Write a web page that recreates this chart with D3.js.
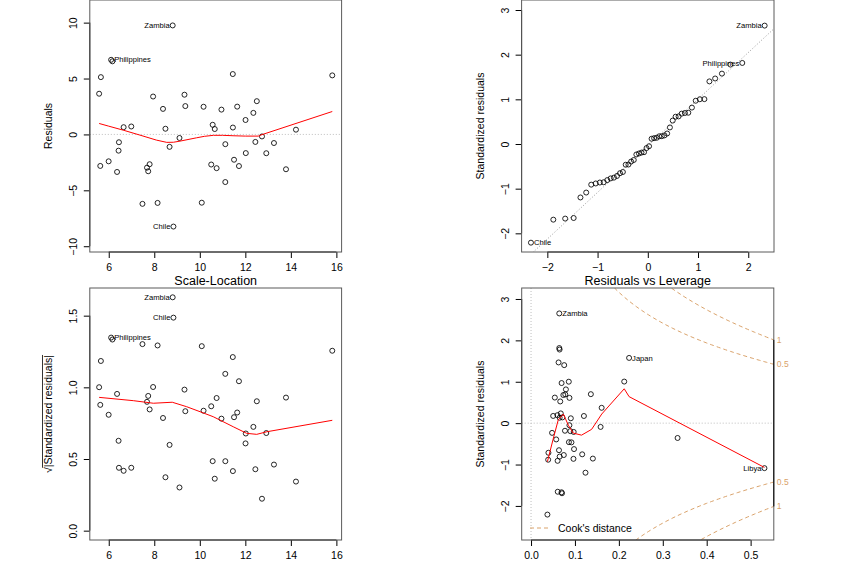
<!DOCTYPE html>
<html><head><meta charset="utf-8">
<script src="https://cdn.jsdelivr.net/npm/d3@7"></script>
<style>
body{margin:0;background:#fff;}
svg{display:block;font-family:"Liberation Sans",Arial,Helvetica,sans-serif;}
</style></head>
<body><svg id="c" width="864" height="576"></svg>
<script>
// ---- data: lm(sr ~ pop15 + pop75 + dpi + ddpi, LifeCycleSavings) diagnostics ----
const countries = ["Australia","Austria","Belgium","Bolivia","Brazil","Canada","Chile","China","Colombia","Costa Rica",
 "Denmark","Ecuador","Finland","France","Germany","Greece","Guatamala","Honduras","Iceland","India",
 "Ireland","Italy","Japan","Korea","Luxembourg","Malta","Norway","Netherlands","New Zealand","Nicaragua",
 "Panama","Paraguay","Peru","Philippines","Portugal","South Africa","South Rhodesia","Spain","Sweden","Switzerland",
 "Turkey","Tunisia","United Kingdom","United States","Venezuela","Zambia","Jamaica","Uruguay","Libya","Malaysia"];
const fitted = [10.566,11.454,10.951,6.448,9.327,9.107,8.842,9.364,6.432,5.655,
 11.450,5.996,12.921,10.165,12.731,13.786,6.365,6.990,7.481,8.491,
 7.949,12.353,15.819,10.087,12.021,12.505,11.122,14.224,8.384,6.654,
 7.734,8.146,6.161,6.105,13.258,10.657,12.009,12.441,11.120,11.643,
 7.796,5.628,10.502,8.672,5.578,8.809,10.739,11.504,11.720,7.681];
const residuals = [0.8636,0.6164,2.2190,-0.6983,3.5528,-0.3169,-8.2422,2.5360,-1.4517,5.1251,
 5.4002,-2.4056,-1.6812,2.4751,-0.1807,-3.1162,-3.3553,0.7101,-6.2106,0.5087,
 3.3911,1.9268,5.2815,-6.1070,-1.6708,2.9749,-0.8718,0.4255,2.2856,0.6464,
 -3.2942,-6.1259,6.5394,6.6750,-0.7684,0.4832,1.2914,-0.6712,-4.2603,2.4868,
 -2.6657,-2.8179,-2.6924,-1.1116,3.6415,9.7509,-3.0185,-2.2638,-2.8295,-2.9709];
const leverage = [0.0677,0.1204,0.0875,0.0895,0.0696,0.1584,0.0373,0.0780,0.0573,0.0755,
 0.0627,0.0637,0.0920,0.1362,0.0874,0.0966,0.0605,0.0601,0.0705,0.0715,
 0.2122,0.0665,0.2233,0.0608,0.0863,0.0794,0.0479,0.0906,0.0542,0.0504,
 0.0390,0.0694,0.0650,0.0643,0.0971,0.0651,0.1608,0.0773,0.1240,0.0736,
 0.0396,0.0746,0.1165,0.3337,0.0860,0.0643,0.1408,0.0979,0.5315,0.0652];
const stdResiduals = [0.2352,0.1728,0.6108,-0.1924,0.9685,-0.0908,-2.2089,0.6945,-0.3932,1.4016,
 1.4667,-0.6537,-0.4639,0.7003,-0.0497,-0.8621,-0.9102,0.1926,-1.6939,0.1388,
 1.0046,0.5244,1.5758,-1.6570,-0.4596,0.8153,-0.2349,0.1173,0.6180,0.1744,
 -0.8836,-1.6698,1.7783,1.8145,-0.2126,0.1314,0.3707,-0.1837,-1.1969,0.6794,
 -0.7153,-0.7703,-0.7532,-0.3581,1.0016,2.6506,-0.8563,-0.6267,-1.0870,-0.8080];
const sqrtAbsStd = [0.4850,0.4157,0.7815,0.4386,0.9841,0.3013,1.4862,0.8334,0.6271,1.1839,
 1.2111,0.8085,0.6811,0.8368,0.2229,0.9285,0.9541,0.4389,1.3015,0.3726,
 1.0023,0.7242,1.2553,1.2872,0.6779,0.9029,0.4847,0.3425,0.7861,0.4176,
 0.9400,1.2922,1.3335,1.3470,0.4611,0.3625,0.6089,0.4286,1.0940,0.8243,
 0.8458,0.8777,0.8679,0.5984,1.0008,1.6281,0.9254,0.7916,1.0426,0.8989];
// theoretical normal quantiles for ppoints(50)
const theoQuantiles = [-2.3263,-1.8808,-1.6449,-1.4758,-1.3408,-1.2265,-1.1264,-1.0364,-0.9542,-0.8779,
 -0.8064,-0.7388,-0.6745,-0.6128,-0.5534,-0.4959,-0.4399,-0.3853,-0.3319,-0.2793,
 -0.2275,-0.1764,-0.1257,-0.0753,-0.0251,0.0251,0.0753,0.1257,0.1764,0.2275,
 0.2793,0.3319,0.3853,0.4399,0.4959,0.5534,0.6128,0.6745,0.7388,0.8064,
 0.8779,0.9542,1.0364,1.1264,1.2265,1.3408,1.4758,1.6449,1.8808,2.3263];
const qqLine = {intercept:-0.0398, slope:1.0436};
// smoothers
const smoothFitted = [[5.578,0.98],[6.0,0.74],[6.64,0.38],[7.37,-0.06],[8.1,-0.51],[8.55,-0.71],[8.84,-0.70],[9.13,-0.6],[9.86,-0.3],[10.2,-0.17],[10.6,-0.08],[11.0,-0.08],[11.5,-0.12],[12.0,-0.15],[12.57,-0.15],[12.73,-0.02],[15.819,2.05]];
const smoothScale = [[5.578,0.930],[7.08,0.907],[7.96,0.889],[8.79,0.896],[9.42,0.865],[10.01,0.830],[10.59,0.795],[11.47,0.725],[12.06,0.679],[12.5,0.672],[12.94,0.690],[15.819,0.770]];
const smoothLev = [[0.0373,-0.93],[0.05,-0.40],[0.062,0.08],[0.0736,0.22],[0.085,-0.05],[0.096,-0.24],[0.115,-0.29],[0.138,-0.15],[0.161,0.22],[0.2122,0.83],[0.2233,0.64],[0.5315,-1.07]];
const cookLevels = [0.5, 1];
const nParams = 5;
// tick labels
const ticksFit = [6,8,10,12,14,16];
const ticksResid = [-10,-5,0,5,10];
const ticksQQx = [-2,-1,0,1,2];
const ticksStd = [-2,-1,0,1,2,3];
const ticksScale = [0,0.5,1.0,1.5];
const ticksLev = [0,0.1,0.2,0.3,0.4,0.5];
const labelled = {
  p1: [["Zambia","L"],["Philippines","R"],["Chile","L"]],
  p2: [["Zambia","L"],["Philippines","L"],["Chile","R"]],
  p3: [["Zambia","L"],["Chile","L"],["Philippines","R"]],
  p4: [["Zambia","R"],["Japan","R"],["Libya","L"]]
};

// ---- drawing ----
const svg = d3.select("#c");
const RED = "#FF0000", COOK = "#D9A26B", GRAYDOT = "#BEBEBE";
function idx(name){ return countries.indexOf(name); }

function panel(id, box, xDom, yDom, xTicks, yTicks, yFmt, xFmt){
  const g = svg.append("g").attr("id", id);
  const x = d3.scaleLinear().domain(xDom).range([box.l, box.r]);
  const y = d3.scaleLinear().domain(yDom).range([box.b, box.t]);
  svg.append("clipPath").attr("id","clip-"+id).append("rect")
    .attr("x",box.l).attr("y",box.t).attr("width",box.r-box.l).attr("height",box.b-box.t);
  const plot = g.append("g").attr("clip-path","url(#clip-"+id+")");
  const ax = g.append("g").attr("transform",`translate(0,${box.b})`)
    .call(d3.axisBottom(x).tickValues(xTicks).tickSize(6).tickPadding(4).tickFormat(xFmt||d3.format("d")));
  ax.select(".domain").attr("d",`M${x(xTicks[0])},0H${x(xTicks[xTicks.length-1])}`).attr("stroke","#000");
  ax.selectAll("text").attr("font-size","10.5px").attr("fill","#000").attr("dy","0.9em")
    .attr("font-family","Liberation Sans, Arial, sans-serif");
  const ay = g.append("g").attr("transform",`translate(${box.l},0)`)
    .call(d3.axisLeft(y).tickValues(yTicks).tickSize(6).tickFormat(yFmt||d3.format("d")));
  ay.select(".domain").attr("d",`M0,${y(yTicks[0])}V${y(yTicks[yTicks.length-1])}`).attr("stroke","#000");
  ay.selectAll(".tick text").attr("x",null).attr("dy",null)
    .attr("transform","translate(-16,0) rotate(-90)").attr("text-anchor","middle").attr("dy","0.35em")
    .attr("font-size","10.5px").attr("fill","#000").attr("font-family","Liberation Sans, Arial, sans-serif");
  g.selectAll(".tick line").attr("stroke","#000");
  g.append("rect").attr("x",box.l).attr("y",box.t).attr("width",box.r-box.l).attr("height",box.b-box.t)
    .attr("fill","none").attr("stroke","#5a5a5a").attr("stroke-width",1);
  return {g, plot, x, y, box};
}
function circles(P, xs, ys){
  P.plot.selectAll("circle.pt").data(xs.map((v,i)=>[v,ys[i]])).join("circle")
    .attr("class","pt").attr("cx",d=>P.x(d[0])).attr("cy",d=>P.y(d[1])).attr("r",2.5)
    .attr("fill","none").attr("stroke","#000").attr("stroke-width",0.85);
}
function smooth(P, pts){
  P.plot.append("path").attr("d", d3.line().x(d=>P.x(d[0])).y(d=>P.y(d[1]))(pts))
    .attr("fill","none").attr("stroke",RED).attr("stroke-width",1);
}
function idLabel(P, px, py, text, side){
  P.g.append("text").attr("x", P.x(px) + (side==="R"? 3 : -3)).attr("y", P.y(py))
    .attr("dy","0.35em").attr("text-anchor", side==="R"?"start":"end")
    .attr("font-size","7.6px").attr("fill","#000").text(text);
}
function yLabel(P, text, cx){
  P.g.append("text").attr("transform",`translate(${cx},${(P.box.t+P.box.b)/2}) rotate(-90)`)
    .attr("text-anchor","middle").attr("font-size","10.5px").attr("fill","#000").text(text);
}
function title(P, text){
  P.g.append("text").attr("x",(P.box.l+P.box.r)/2).attr("y",P.box.t-3)
    .attr("text-anchor","middle").attr("font-size","12.5px").attr("fill","#000").text(text);
}
function hline(P, v){
  P.plot.append("line").attr("x1",P.box.l).attr("x2",P.box.r).attr("y1",P.y(v)).attr("y2",P.y(v))
    .attr("stroke",GRAYDOT).attr("stroke-dasharray","1,2").attr("stroke-width",1);
}

// Panel 1: Residuals vs Fitted (its title lies above the visible area)
const P1 = panel("p1",{l:89.8,r:341.6,t:0,b:252},[5.168,16.229],[-10.517,12.025],ticksFit,ticksResid);
hline(P1,0);
circles(P1, fitted, residuals);
smooth(P1, smoothFitted);
labelled.p1.forEach(([n,s])=>idLabel(P1, fitted[idx(n)], residuals[idx(n)], n, s));
yLabel(P1,"Residuals",52);

// Panel 2: Normal Q-Q (its title lies above the visible area)
const P2 = panel("p2",{l:521.6,r:774,t:0,b:252},[-2.5124,2.5124],[-2.418,3.224],ticksQQx,ticksStd);
const order = d3.range(stdResiduals.length).sort((a,b)=>stdResiduals[a]-stdResiduals[b]);
const qqX = order.map((k,i)=>theoQuantiles[i]);
const qqY = order.map(k=>stdResiduals[k]);
P2.plot.append("line").attr("x1",P2.x(-2.6)).attr("x2",P2.x(2.6))
  .attr("y1",P2.y(qqLine.intercept+qqLine.slope*-2.6)).attr("y2",P2.y(qqLine.intercept+qqLine.slope*2.6))
  .attr("stroke","#999").attr("stroke-dasharray","1,2").attr("stroke-width",1);
circles(P2, qqX, qqY);
labelled.p2.forEach(([n,s])=>{
  const pos = order.indexOf(idx(n));
  idLabel(P2, qqX[pos], qqY[pos], n, s);
});
yLabel(P2,"Standardized residuals",484);

// Panel 3: Scale-Location
const P3 = panel("p3",{l:89.8,r:341.6,t:288,b:540},[5.168,16.229],[-0.0651,1.693],ticksFit,ticksScale,d3.format(".1f"));
circles(P3, fitted, sqrtAbsStd);
smooth(P3, smoothScale);
labelled.p3.forEach(([n,s])=>idLabel(P3, fitted[idx(n)], sqrtAbsStd[idx(n)], n, s));
{
  const cx = 52, cy = (P3.box.t+P3.box.b)/2;
  const gl = P3.g.append("g").attr("transform",`translate(${cx},${cy}) rotate(-90)`);
  const t = gl.append("text").attr("text-anchor","middle").attr("font-size","10.5px").attr("fill","#000")
    .text("\u221A|Standardized residuals|");
  const L = t.node().getComputedTextLength();
  const w = t.node().getSubStringLength(0,1);
  gl.append("line").attr("x1",-L/2+w-0.5).attr("x2",L/2).attr("y1",-9.5).attr("y2",-9.5)
    .attr("stroke","#000").attr("stroke-width",0.8);
}
title(P3,"Scale-Location");

// Panel 4: Residuals vs Leverage
const P4 = panel("p4",{l:521.7,r:773.8,t:288,b:540},[-0.02126,0.5528],[-2.823,3.265],ticksLev,ticksStd,null,d3.format(".1f"));
hline(P4,0);
P4.plot.append("line").attr("x1",P4.x(0)).attr("x2",P4.x(0)).attr("y1",P4.box.t).attr("y2",P4.box.b)
  .attr("stroke",GRAYDOT).attr("stroke-dasharray","1,2").attr("stroke-width",1);
const hMax = 0.5528;
const hh = d3.range(101).map(i=>0.0053 + (hMax-0.0053)*i/100);
cookLevels.forEach(lv=>{
  [1,-1].forEach(sg=>{
    const pts = hh.map(h=>[h, sg*Math.sqrt(lv*nParams*(1-h)/h)]);
    P4.plot.append("path").attr("d", d3.line().x(d=>P4.x(d[0])).y(d=>P4.y(d[1]))(pts))
      .attr("fill","none").attr("stroke",COOK).attr("stroke-width",1).attr("stroke-dasharray","4,3");
  });
});
circles(P4, leverage, stdResiduals);
smooth(P4, smoothLev);
labelled.p4.forEach(([n,s])=>idLabel(P4, leverage[idx(n)], stdResiduals[idx(n)], n, s));
{
  const vals = [];
  cookLevels.forEach(lv=>{ const v=Math.sqrt(lv*nParams*(1-hMax)/hMax); vals.push([v,lv],[-v,lv]); });
  const ext = d3.extent(vals,d=>d[0]);
  P4.g.append("line").attr("x1",P4.box.r).attr("x2",P4.box.r).attr("y1",P4.y(ext[0])).attr("y2",P4.y(ext[1]))
    .attr("stroke","#000").attr("stroke-width",1);
  vals.forEach(([v,lv])=>{
    P4.g.append("text").attr("x",P4.box.r+3).attr("y",P4.y(v)).attr("dy","0.35em")
      .attr("font-size","8.5px").attr("fill",COOK).text(String(lv));
  });
}
P4.g.append("line").attr("x1",530).attr("x2",548).attr("y1",528).attr("y2",528)
  .attr("stroke",COOK).attr("stroke-dasharray","4,3");
P4.g.append("text").attr("x",558).attr("y",528).attr("dy","0.35em").attr("font-size","10.5px").attr("fill","#000").text("Cook's distance");
yLabel(P4,"Standardized residuals",484);
title(P4,"Residuals vs Leverage");
</script></body></html>
